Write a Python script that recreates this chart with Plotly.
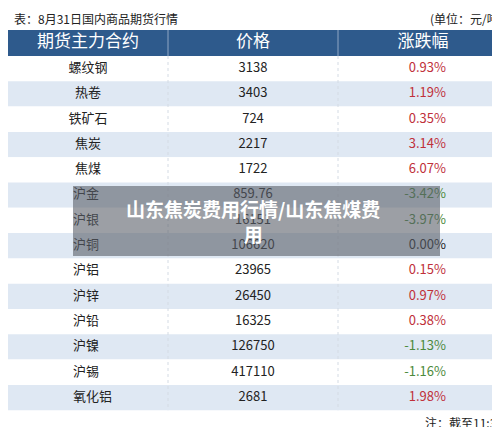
import plotly.graph_objects as go

names = ["螺纹钢","热卷","铁矿石","焦炭","焦煤","沪金","沪银","沪铜","沪铝","沪锌","沪铅","沪镍","沪锡","氧化铝"]
prices = ["3138","3403","724","2217","1722","859.76","16151","106620","23965","26450","16325","126750","417110","2681"]
changes = [0.93,1.19,0.35,3.14,6.07,-3.42,-3.97,0.00,0.15,0.97,0.38,-1.13,-1.16,1.98]
headers = ["期货主力合约","价格","涨跌幅"]

W, H = 500, 427
RH = 25.3
def ry(p): return (p - 48) / RH - 0.5   # pixel -> row coordinate
F = "Noto Sans CJK SC"
n = len(names)
rows = list(range(n))

fig = go.Figure()
for i in rows:
    fig.add_shape(type="rect", x0=0, x1=500, y0=i-0.5, y1=i+0.5,
                  fillcolor="#ffffff" if i % 2 == 0 else "#dfe8f3", line_width=0, layer="below")
fig.add_shape(type="rect", x0=0, x1=500, y0=ry(22), y1=-0.5, fillcolor="#2e5a8c", line_width=0, layer="below")
for xv in (160, 330):
    fig.add_shape(type="line", x0=xv, x1=xv, y0=ry(22), y1=-0.5, line=dict(color="#8fa6c4", width=1))
    fig.add_shape(type="line", x0=xv, x1=xv, y0=-0.5, y1=n-0.5, line=dict(color="#d4dbe4", width=1, dash="dot"))

fig.add_trace(go.Scatter(x=[80, 245, 415], y=[ry(35)]*3, mode="text", text=headers,
                         textfont=dict(color="white", size=17, family=F)))
c_idx = [i for i in rows if i < 5]; l_idx = [i for i in rows if i >= 5]
fig.add_trace(go.Scatter(x=[80]*len(c_idx), y=c_idx, mode="text", text=[names[i] for i in c_idx],
                         textposition="middle center", textfont=dict(color="#222", size=13, family=F)))
fig.add_trace(go.Scatter(x=[65]*len(l_idx), y=l_idx, mode="text", text=[names[i] for i in l_idx],
                         textposition="middle right", textfont=dict(color="#222", size=13, family=F)))
fig.add_trace(go.Scatter(x=[245]*n, y=rows, mode="text", text=prices,
                         textfont=dict(color="#222", size=13, family=F)))
chg_col = ["#c0303a" if c > 0 else ("#4d8a3c" if c < 0 else "#222") for c in changes]
fig.add_trace(go.Scatter(x=[438]*n, y=rows, mode="text", text=[f"{c:.2f}%" for c in changes],
                         textposition="middle left", textfont=dict(color=chg_col, size=13, family=F)))

fig.add_annotation(x=4, y=ry(10), text="表：8月31日国内商品期货行情", showarrow=False, xanchor="left",
                   font=dict(size=12, color="#222", family=F))
fig.add_annotation(x=497, y=ry(10), text="(单位：元/吨)", showarrow=False, xanchor="right",
                   font=dict(size=12, color="#222", family=F))
fig.add_annotation(x=497, y=ry(414), text="注：截至11:30", showarrow=False, xanchor="right",
                   font=dict(size=12, color="#222", family=F))
fig.add_shape(type="rect", x0=65, x1=432, y0=ry(178), y1=ry(248),
              fillcolor="rgba(90,95,105,0.6)", line_width=0)
fig.add_annotation(x=245, y=ry(213), text="<b>山东焦炭费用行情/山东焦煤费<br>用</b>", showarrow=False,
                   font=dict(size=19, color="white", family=F))
fig.update_layout(width=W, height=H, margin=dict(l=0, r=0, t=0, b=0), paper_bgcolor="white",
                  plot_bgcolor="white", showlegend=False,
                  xaxis=dict(range=[0, 500], visible=False, fixedrange=True),
                  yaxis=dict(range=[ry(427), ry(0)], visible=False, fixedrange=True))
fig.write_html("out.html")
